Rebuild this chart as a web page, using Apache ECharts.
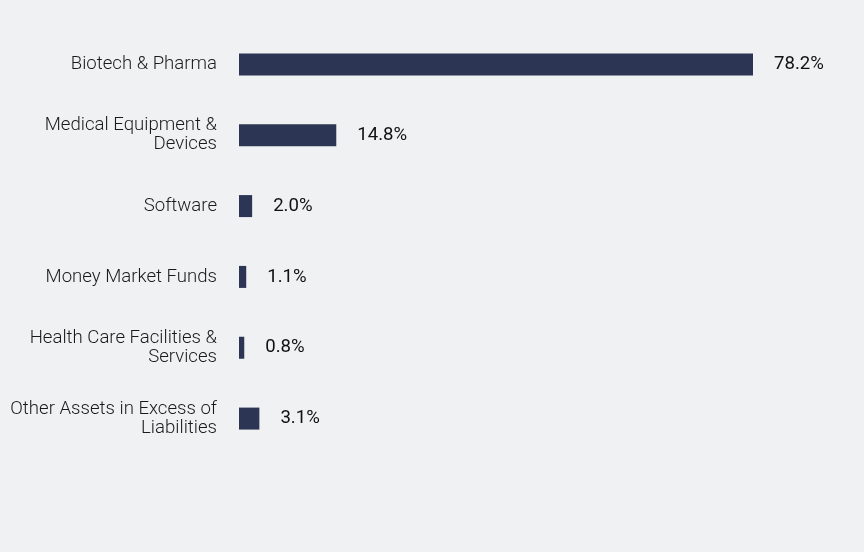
<!DOCTYPE html>
<html>
<head>
<meta charset="utf-8">
<script src="https://cdn.jsdelivr.net/npm/echarts@6/dist/echarts.min.js"></script>
<style>
  html, body { margin: 0; padding: 0; background: #f0f1f3; }
  #chart { width: 864px; height: 552px; }
</style>
</head>
<body>
<div id="chart"></div>
<script>
var categories = [
  'Biotech & Pharma',
  'Medical Equipment &\nDevices',
  'Software',
  'Money Market Funds',
  'Health Care Facilities &\nServices',
  'Other Assets in Excess of\nLiabilities'
];
var values = [78.2, 14.8, 2.0, 1.1, 0.8, 3.1];

(function(){
  var chartDom = document.getElementById('chart');
  var myChart = echarts.init(chartDom);
  var option = {
    backgroundColor: '#f0f1f3',
    animation: false,
    grid: {
      left: 239,
      width: 514,
      top: 29,
      height: 425
    },
    xAxis: {
      type: 'value',
      min: 0,
      max: 'dataMax',
      show: false
    },
    yAxis: {
      type: 'category',
      inverse: true,
      data: categories,
      axisLine: { show: false },
      axisTick: { show: false },
      axisLabel: {
        margin: 22,
        color: '#1a1a1a',
        fontFamily: 'Roboto',
        fontWeight: 300,
        fontSize: 18.6,
        lineHeight: 19,
        padding: [3, 0, 0, 0],
        align: 'right'
      }
    },
    series: [
      {
        type: 'bar',
        data: values,
        barWidth: 22,
        itemStyle: { color: '#2c3654' },
        label: {
          show: true,
          position: 'right',
          distance: 21,
          color: '#111111',
          fontFamily: 'Roboto',
          fontSize: 18.6,
          padding: [2, 0, 0, 0],
          formatter: function(p){ return p.value.toFixed(1) + '%'; }
        }
      }
    ]
  };
  option && myChart.setOption(option);
})();
</script>
</body>
</html>
